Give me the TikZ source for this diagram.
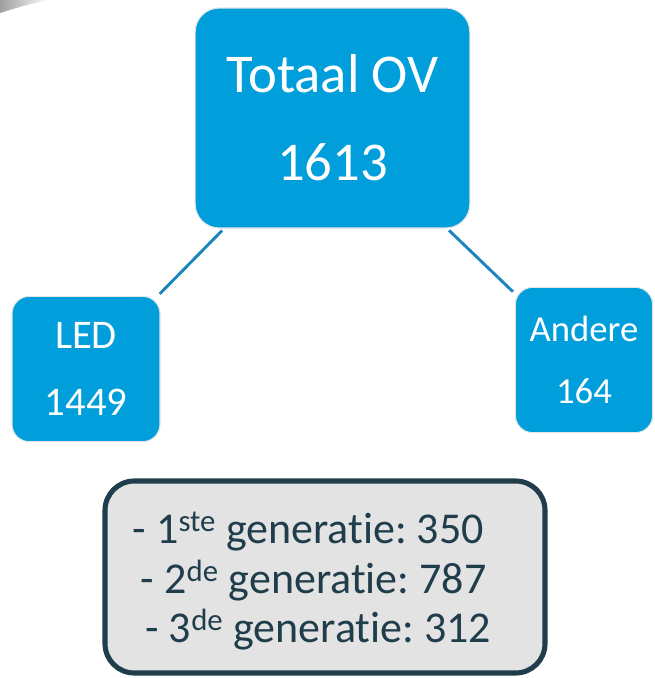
\documentclass[tikz,border=0pt]{standalone}
\usepackage{fontspec}
\setmainfont[Ligatures=NoCommon]{Carlito}
\usetikzlibrary{positioning,shapes}

\definecolor{ovblue}{RGB}{0,158,219}
\definecolor{ovline}{RGB}{28,132,190}
\definecolor{ovslate}{RGB}{31,61,74}
\definecolor{ovgray}{RGB}{227,227,227}

\frenchspacing

\begin{document}
\begin{tikzpicture}[
            x = 0.75pt, y = -0.75pt, % one unit is one pixel
            shorten > = 2pt, % keep lines off the boxes
            shorten < = 2pt,
            semithick % line style
        ]

        \tikzstyle{every box}=[
            draw = white!80!gray,
            line width = 0.8pt,
            fill = ovblue,
            text = white,
            rounded corners = 18pt,
            align = center,
            inner sep = 0pt
        ]
        \tikzstyle{link}=[draw = ovline, line width = 2.2pt]

        \useasboundingbox (0,0) rectangle (654,678);

        % grey swoosh in the corner
        \shade[left color=gray!75, right color=white]
            (0,0) -- (0,13) .. controls (16,8) and (32,3) .. (50,0) -- cycle;

        \node[every box, minimum width=206pt, minimum height=165pt,
              font=\fontsize{41}{66}\selectfont] (tot) at (332.5,118) {Totaal OV\\1613};
        \node[every box, minimum width=111pt, minimum height=109pt, rounded corners=13pt,
              font=\fontsize{30.5}{50}\selectfont] (led) at (86,369) {LED\\1449};
        \node[every box, minimum width=103pt, minimum height=109pt, rounded corners=13pt,
              font=\fontsize{27.5}{46}\selectfont] (and) at (584,360) {Andere\\164};

        \node[draw = ovslate, line width = 3.8pt, fill = ovgray, text = ovslate,
              rounded corners = 22pt, minimum width = 330pt, minimum height = 144pt,
              align = center, inner sep = 0pt,
              font = \fontsize{33}{37}\selectfont] (gen) at (325,577)
              {\rule{0pt}{30pt}- 1\textsuperscript{ste} generatie: 350\makebox[25pt]{}\\
               - 2\textsuperscript{de} generatie: 787\makebox[17pt]{}\\
               - 3\textsuperscript{de} generatie: 312\makebox[10pt]{}};

        \draw[link] (tot) -- (led);
        \draw[link] (tot) -- (and);

    \end{tikzpicture}
\end{document}
